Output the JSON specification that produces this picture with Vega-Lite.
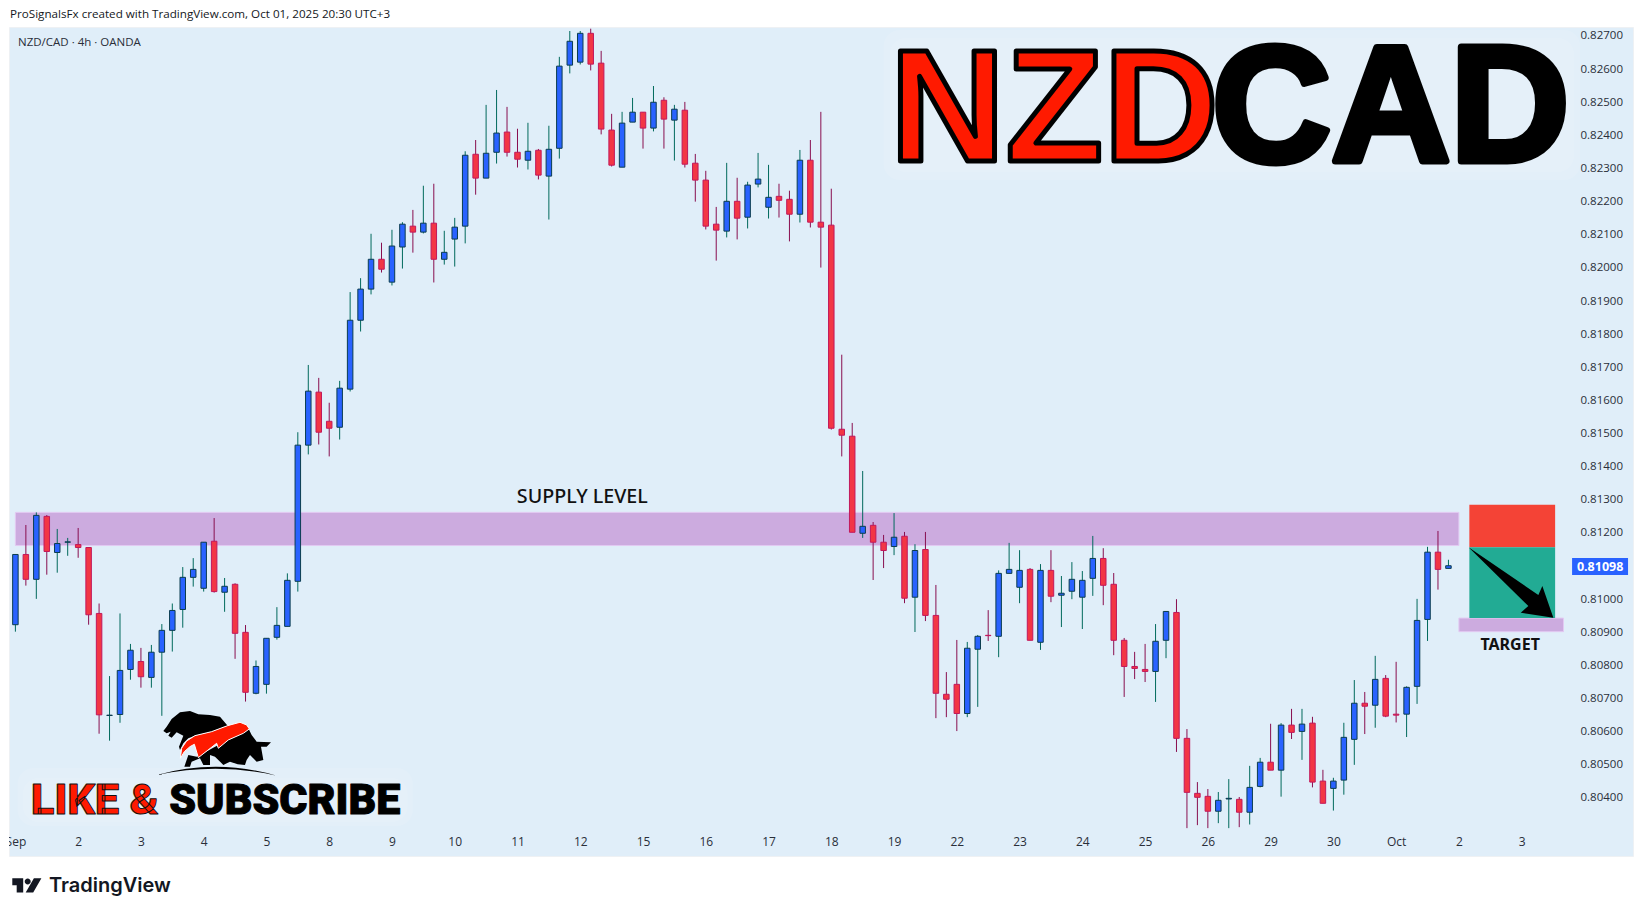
{"$schema":"https://vega.github.io/schema/vega-lite/v6.json","width":1624,"height":829,"autosize":"none","padding":{"left":9,"top":27,"right":10,"bottom":60},"background":"#ffffff","view":{"fill":"#e0eef9","stroke":"#eef1f4"},
"config":{"font":"Open Sans"},
"resolve":{"axis":{"x":"independent","y":"independent"}},
"datasets":{"candles":[
{"i":0,"d":"up","o":0.8092,"h":0.81132,"l":0.80899,"c":0.81132},{"i":1,"d":"down","o":0.81132,"h":0.81221,"l":0.81038,"c":0.81057},{"i":2,"d":"up","o":0.81057,"h":0.81259,"l":0.80998,"c":0.8125},{"i":3,"d":"down","o":0.81247,"h":0.81251,"l":0.81071,"c":0.81141},{"i":4,"d":"up","o":0.81138,"h":0.81209,"l":0.81077,"c":0.81165},{"i":5,"d":"up","o":0.81169,"h":0.81182,"l":0.81128,"c":0.8117},{"i":6,"d":"down","o":0.81162,"h":0.81212,"l":0.81122,"c":0.81153},{"i":7,"d":"down","o":0.81153,"h":0.81153,"l":0.8092,"c":0.8095},{"i":8,"d":"down","o":0.80954,"h":0.80984,"l":0.80591,"c":0.80648},{"i":9,"d":"up","o":0.80646,"h":0.80765,"l":0.8057,"c":0.80647},
{"i":10,"d":"up","o":0.80649,"h":0.80954,"l":0.80624,"c":0.80782},{"i":11,"d":"up","o":0.80785,"h":0.80862,"l":0.80754,"c":0.80843},{"i":12,"d":"down","o":0.80809,"h":0.8085,"l":0.8073,"c":0.80763},{"i":13,"d":"up","o":0.80761,"h":0.80859,"l":0.8073,"c":0.80837},{"i":14,"d":"up","o":0.80837,"h":0.80922,"l":0.80645,"c":0.80903},{"i":15,"d":"up","o":0.80903,"h":0.80984,"l":0.80839,"c":0.80963},{"i":16,"d":"up","o":0.80966,"h":0.81094,"l":0.80911,"c":0.81063},{"i":17,"d":"up","o":0.81063,"h":0.81121,"l":0.81035,"c":0.81087},{"i":18,"d":"up","o":0.8103,"h":0.81169,"l":0.8102,"c":0.81169},{"i":19,"d":"down","o":0.81172,"h":0.81242,"l":0.81017,"c":0.8102},
{"i":20,"d":"up","o":0.81018,"h":0.81061,"l":0.80959,"c":0.81036},{"i":21,"d":"down","o":0.81042,"h":0.81045,"l":0.80817,"c":0.80894},{"i":22,"d":"down","o":0.80897,"h":0.80919,"l":0.80688,"c":0.80716},{"i":23,"d":"up","o":0.80713,"h":0.80812,"l":0.8071,"c":0.80794},{"i":24,"d":"up","o":0.8074,"h":0.80879,"l":0.80712,"c":0.80879},{"i":25,"d":"up","o":0.80882,"h":0.80973,"l":0.80875,"c":0.80918},{"i":26,"d":"up","o":0.80915,"h":0.81075,"l":0.80915,"c":0.81054},{"i":27,"d":"up","o":0.81051,"h":0.81501,"l":0.8102,"c":0.81462},{"i":28,"d":"up","o":0.81462,"h":0.81704,"l":0.81434,"c":0.81625},{"i":29,"d":"down","o":0.81622,"h":0.81665,"l":0.81464,"c":0.81501},
{"i":30,"d":"down","o":0.81534,"h":0.8159,"l":0.81428,"c":0.81513},{"i":31,"d":"up","o":0.81516,"h":0.81656,"l":0.81479,"c":0.81634},{"i":32,"d":"up","o":0.81631,"h":0.81924,"l":0.81624,"c":0.81839},{"i":33,"d":"up","o":0.81839,"h":0.81966,"l":0.81805,"c":0.81933},{"i":34,"d":"up","o":0.81933,"h":0.821,"l":0.81917,"c":0.82023},{"i":35,"d":"down","o":0.82023,"h":0.82073,"l":0.81983,"c":0.81993},{"i":36,"d":"up","o":0.81954,"h":0.82112,"l":0.81944,"c":0.82063},{"i":37,"d":"up","o":0.8206,"h":0.82135,"l":0.81995,"c":0.82129},{"i":38,"d":"down","o":0.82123,"h":0.82172,"l":0.82043,"c":0.82105},{"i":39,"d":"up","o":0.82105,"h":0.82245,"l":0.82101,"c":0.82132},
{"i":40,"d":"down","o":0.82132,"h":0.82251,"l":0.81953,"c":0.82023},{"i":41,"d":"up","o":0.82023,"h":0.82109,"l":0.82007,"c":0.82044},{"i":42,"d":"up","o":0.82084,"h":0.82148,"l":0.82001,"c":0.8212},{"i":43,"d":"up","o":0.82123,"h":0.82349,"l":0.82071,"c":0.82337},{"i":44,"d":"down","o":0.8234,"h":0.82383,"l":0.82218,"c":0.82268},{"i":45,"d":"up","o":0.82268,"h":0.82489,"l":0.82268,"c":0.82343},{"i":46,"d":"up","o":0.82346,"h":0.82534,"l":0.82312,"c":0.82404},{"i":47,"d":"down","o":0.82407,"h":0.82483,"l":0.82333,"c":0.82346},{"i":48,"d":"down","o":0.82346,"h":0.82417,"l":0.823,"c":0.82325},{"i":49,"d":"up","o":0.82322,"h":0.82435,"l":0.82294,"c":0.82349},
{"i":50,"d":"down","o":0.82352,"h":0.82356,"l":0.82264,"c":0.82277},{"i":51,"d":"up","o":0.82274,"h":0.82426,"l":0.82143,"c":0.82355},{"i":52,"d":"up","o":0.82358,"h":0.82634,"l":0.82327,"c":0.82606},{"i":53,"d":"up","o":0.82609,"h":0.82712,"l":0.82584,"c":0.82681},{"i":54,"d":"up","o":0.82618,"h":0.82712,"l":0.82611,"c":0.82705},{"i":55,"d":"down","o":0.82705,"h":0.82719,"l":0.82593,"c":0.82612},{"i":56,"d":"down","o":0.82615,"h":0.82652,"l":0.824,"c":0.82416},{"i":57,"d":"down","o":0.82413,"h":0.82462,"l":0.82303,"c":0.82307},{"i":58,"d":"up","o":0.82301,"h":0.82468,"l":0.82301,"c":0.82434},{"i":59,"d":"up","o":0.82437,"h":0.8251,"l":0.82437,"c":0.82467},
{"i":60,"d":"down","o":0.82467,"h":0.82467,"l":0.82357,"c":0.82419},{"i":61,"d":"up","o":0.82419,"h":0.82546,"l":0.82409,"c":0.82497},{"i":62,"d":"down","o":0.82503,"h":0.82512,"l":0.82357,"c":0.82446},{"i":63,"d":"up","o":0.82443,"h":0.82489,"l":0.82321,"c":0.82476},{"i":64,"d":"down","o":0.82473,"h":0.82498,"l":0.823,"c":0.8231},{"i":65,"d":"down","o":0.82313,"h":0.82341,"l":0.82197,"c":0.82262},{"i":66,"d":"down","o":0.82262,"h":0.8229,"l":0.82113,"c":0.82123},{"i":67,"d":"down","o":0.82129,"h":0.82181,"l":0.82019,"c":0.82111},{"i":68,"d":"up","o":0.82108,"h":0.82314,"l":0.82089,"c":0.82198},{"i":69,"d":"down","o":0.82198,"h":0.82269,"l":0.82083,"c":0.82147},
{"i":70,"d":"up","o":0.8215,"h":0.82257,"l":0.82116,"c":0.82247},{"i":71,"d":"up","o":0.8225,"h":0.82344,"l":0.8224,"c":0.82265},{"i":72,"d":"up","o":0.8218,"h":0.82308,"l":0.82146,"c":0.8221},{"i":73,"d":"down","o":0.82213,"h":0.82251,"l":0.82149,"c":0.82201},{"i":74,"d":"down","o":0.82204,"h":0.8223,"l":0.82077,"c":0.82159},{"i":75,"d":"up","o":0.82159,"h":0.82353,"l":0.82134,"c":0.82322},{"i":76,"d":"down","o":0.82322,"h":0.82383,"l":0.82119,"c":0.82135},{"i":77,"d":"down","o":0.82135,"h":0.82468,"l":0.81998,"c":0.8212},{"i":78,"d":"down","o":0.82126,"h":0.82236,"l":0.81509,"c":0.81513},{"i":79,"d":"down","o":0.8151,"h":0.81735,"l":0.81428,"c":0.81492},
{"i":80,"d":"down","o":0.81489,"h":0.81529,"l":0.81199,"c":0.81199},{"i":81,"d":"up","o":0.81196,"h":0.81384,"l":0.81182,"c":0.81217},{"i":82,"d":"down","o":0.8122,"h":0.8123,"l":0.81055,"c":0.81169},{"i":83,"d":"down","o":0.81169,"h":0.81191,"l":0.81091,"c":0.81144},{"i":84,"d":"up","o":0.81156,"h":0.81257,"l":0.8113,"c":0.81184},{"i":85,"d":"down","o":0.81187,"h":0.812,"l":0.80985,"c":0.81},{"i":86,"d":"up","o":0.81003,"h":0.81163,"l":0.80898,"c":0.81144},{"i":87,"d":"down","o":0.81147,"h":0.812,"l":0.80931,"c":0.80948},{"i":88,"d":"down","o":0.80948,"h":0.8104,"l":0.80638,"c":0.80713},{"i":89,"d":"down","o":0.8071,"h":0.80777,"l":0.80641,"c":0.80695},
{"i":90,"d":"down","o":0.8074,"h":0.80874,"l":0.80599,"c":0.80652},{"i":91,"d":"up","o":0.80652,"h":0.80868,"l":0.80641,"c":0.80849},{"i":92,"d":"up","o":0.80846,"h":0.80889,"l":0.80672,"c":0.80885},{"i":93,"d":"down","o":0.80888,"h":0.80964,"l":0.80871,"c":0.80887},{"i":94,"d":"up","o":0.80885,"h":0.81084,"l":0.80822,"c":0.81075},{"i":95,"d":"up","o":0.81075,"h":0.81167,"l":0.81075,"c":0.81087},{"i":96,"d":"up","o":0.81033,"h":0.81145,"l":0.80985,"c":0.81084},{"i":97,"d":"down","o":0.81087,"h":0.81091,"l":0.80873,"c":0.80873},{"i":98,"d":"up","o":0.80867,"h":0.81103,"l":0.80844,"c":0.81084},{"i":99,"d":"down","o":0.81084,"h":0.81145,"l":0.80988,"c":0.81006},
{"i":100,"d":"up","o":0.81009,"h":0.81067,"l":0.80913,"c":0.81015},{"i":101,"d":"up","o":0.81021,"h":0.81109,"l":0.80997,"c":0.81057},{"i":102,"d":"up","o":0.81003,"h":0.81082,"l":0.80907,"c":0.81054},{"i":103,"d":"up","o":0.8106,"h":0.81188,"l":0.81007,"c":0.8112},{"i":104,"d":"down","o":0.8112,"h":0.81151,"l":0.80979,"c":0.81039},{"i":105,"d":"down","o":0.81042,"h":0.81076,"l":0.80828,"c":0.80873},{"i":106,"d":"down","o":0.80873,"h":0.8088,"l":0.80702,"c":0.80794},{"i":107,"d":"down","o":0.80794,"h":0.80838,"l":0.80756,"c":0.80788},{"i":108,"d":"down","o":0.80785,"h":0.80862,"l":0.80747,"c":0.80779},{"i":109,"d":"up","o":0.80779,"h":0.80922,"l":0.80687,"c":0.8087},
{"i":110,"d":"up","o":0.80873,"h":0.8096,"l":0.80819,"c":0.8096},{"i":111,"d":"down","o":0.80957,"h":0.80997,"l":0.80536,"c":0.80577},{"i":112,"d":"down","o":0.80577,"h":0.80605,"l":0.80306,"c":0.80414},{"i":113,"d":"down","o":0.80411,"h":0.80445,"l":0.80315,"c":0.80399},{"i":114,"d":"down","o":0.80402,"h":0.80424,"l":0.80306,"c":0.80357},{"i":115,"d":"up","o":0.80357,"h":0.80415,"l":0.80321,"c":0.8039},{"i":116,"d":"up","o":0.80394,"h":0.80454,"l":0.80306,"c":0.80396},{"i":117,"d":"down","o":0.80393,"h":0.804,"l":0.80309,"c":0.80354},{"i":118,"d":"up","o":0.80354,"h":0.80494,"l":0.80317,"c":0.80429},{"i":119,"d":"up","o":0.80432,"h":0.80518,"l":0.80429,"c":0.80505},
{"i":120,"d":"down","o":0.80505,"h":0.80621,"l":0.80481,"c":0.80481},{"i":121,"d":"up","o":0.80481,"h":0.80623,"l":0.80401,"c":0.80617},{"i":122,"d":"down","o":0.80617,"h":0.80666,"l":0.80575,"c":0.80595},{"i":123,"d":"up","o":0.80598,"h":0.80666,"l":0.80512,"c":0.8062},{"i":124,"d":"down","o":0.80623,"h":0.80642,"l":0.80429,"c":0.80445},{"i":125,"d":"down","o":0.80448,"h":0.80482,"l":0.80381,"c":0.80381},{"i":126,"d":"up","o":0.80426,"h":0.80458,"l":0.80359,"c":0.80448},{"i":127,"d":"up","o":0.80451,"h":0.80624,"l":0.80407,"c":0.8058},{"i":128,"d":"up","o":0.80574,"h":0.80753,"l":0.80497,"c":0.80683},{"i":129,"d":"down","o":0.80683,"h":0.80717,"l":0.8059,"c":0.80674},
{"i":130,"d":"up","o":0.80677,"h":0.80826,"l":0.80609,"c":0.80755},{"i":131,"d":"down","o":0.80758,"h":0.80768,"l":0.80641,"c":0.80644},{"i":132,"d":"down","o":0.8065,"h":0.80808,"l":0.80625,"c":0.80647},{"i":133,"d":"up","o":0.8065,"h":0.80734,"l":0.80581,"c":0.80731},{"i":134,"d":"up","o":0.80734,"h":0.80998,"l":0.80681,"c":0.80933},{"i":135,"d":"up","o":0.80936,"h":0.81155,"l":0.80871,"c":0.81139},{"i":136,"d":"down","o":0.81139,"h":0.81203,"l":0.81026,"c":0.81087},{"i":137,"d":"up","o":0.8109,"h":0.81116,"l":0.8109,"c":0.81098}
]},
"encoding":{
"x":{"field":"i","type":"quantitative","title":null,"scale":{"domain":[-0.612,154.644],"nice":false,"zero":false,"padding":0},"axis":null},
"y":{"field":"p","type":"quantitative","title":null,"scale":{"domain":[0.802219,0.827241],"nice":false,"zero":false,"padding":0},"axis":null}
},
"layer":[
{"data":{"values":[{"i":0,"p":0.81}]},"mark":{"type":"point","opacity":0,"size":1},
"encoding":{
"x":{"field":"i","type":"quantitative","title":null,"scale":{"domain":[-0.612,154.644],"nice":false,"zero":false,"padding":0},"axis":{"orient":"bottom","offset":-20,"values":[0,6,12,18,24,30,36,42,48,54,60,66,72,78,84,90,96,102,108,114,120,126,132,138,144],"labelExpr":"{'0':'Sep','6':'2','12':'3','18':'4','24':'5','30':'8','36':'9','42':'10','48':'11','54':'12','60':'15','66':'16','72':'17','78':'18','84':'19','90':'22','96':'23','102':'24','108':'25','114':'26','120':'29','126':'30','132':'Oct','138':'2','144':'3'}[datum.value+'']","domain":false,"ticks":false,"grid":false,"labelPadding":0,"labelFontSize":12,"labelColor":"#2a2e39","labelFont":"Open Sans","labelOverlap":false,"labelBound":false,"labelFlush":false,"title":null}},
"y":{"field":"p","type":"quantitative","title":null,"scale":{"domain":[0.802219,0.827241],"nice":false,"zero":false,"padding":0},"axis":{"orient":"right","offset":-53,"values":[0.804,0.805,0.806,0.807,0.808,0.809,0.81,0.812,0.813,0.814,0.815,0.816,0.817,0.818,0.819,0.82,0.821,0.822,0.823,0.824,0.825,0.826,0.827],"format":".5f","domain":false,"ticks":false,"grid":false,"labelPadding":0,"labelOffset":1,"labelFontSize":11.5,"labelColor":"#2a2e39","labelFont":"Open Sans","labelOverlap":false,"labelBound":false,"labelFlush":false,"title":null}}
}},
{"data":{"values":[{"i":-1.472,"i2":-0.612,"p":0.8025,"p2":0.8272}]},"mark":{"type":"rect","fill":"#ffffff"},"encoding":{"x2":{"field":"i2"},"y2":{"field":"p2"}}},
{"data":{"values":[{"name":"title glow","i":83.0,"i2":149.6,"p":0.822623,"p2":0.827151},{"name":"title glow","i":83.6,"i2":149.0,"p":0.822865,"p2":0.826909},{"name":"banner glow","i":0.2,"i2":38.0,"p":0.803125,"p2":0.804875},{"name":"banner glow","i":0.7,"i2":37.5,"p":0.803245,"p2":0.804573}]},"mark":{"type":"rect","fill":"#ffffff","fillOpacity":0.1,"cornerRadius":16},"encoding":{"x2":{"field":"i2"},"y2":{"field":"p2"}}},
{"data":{"values":[{"name":"SUPPLY LEVEL zone","i":0,"i2":138,"p":0.81159,"p2":0.81259},{"name":"TARGET zone","i":138,"i2":148,"p":0.80899,"p2":0.8094}]},"mark":{"type":"rect","fill":"#ccabdf","stroke":"#e2c9f2","strokeWidth":1},"encoding":{"x2":{"field":"i2"},"y2":{"field":"p2"}}},
{"data":{"values":[{"name":"stop","i":139,"i2":147.2,"p":0.81154,"p2":0.81282}]},"mark":{"type":"rect","fill":"#f44336"},"encoding":{"x2":{"field":"i2"},"y2":{"field":"p2"}}},
{"data":{"values":[{"name":"profit","i":139,"i2":147.2,"p":0.8094,"p2":0.81154}]},"mark":{"type":"rect","fill":"#22ab94"},"encoding":{"x2":{"field":"i2"},"y2":{"field":"p2"}}},
{"data":{"name":"candles"},"mark":{"type":"rule","strokeWidth":1},"encoding":{"y":{"field":"l","type":"quantitative","title":null,"scale":{"domain":[0.802219,0.827241],"nice":false,"zero":false,"padding":0},"axis":null},"y2":{"field":"h"},"color":{"field":"d","type":"nominal","legend":null,"scale":{"domain":["up","down"],"range":["#00695c","#880e4f"]}}}},
{"data":{"name":"candles"},"mark":{"type":"bar","size":5.5,"strokeWidth":1,"orient":"vertical"},"encoding":{"y":{"field":"o","type":"quantitative","title":null,"scale":{"domain":[0.802219,0.827241],"nice":false,"zero":false,"padding":0},"axis":null},"y2":{"field":"c"},"fill":{"field":"d","type":"nominal","legend":null,"scale":{"domain":["up","down"],"range":["#2962ff","#f23645"]}},"stroke":{"field":"d","type":"nominal","legend":null,"scale":{"domain":["up","down"],"range":["#0b3d4f","#c2185b"]}}}},
{"data":{"values":[{"i":142.89,"p":0.810489,"name":"arrow"}]},"mark":{"type":"point","filled":true,"size":10000,"fill":"#000000","opacity":1,"strokeWidth":0,"shape":"M-.83 -.694 L.566 .26 L.646 .08 L.866 .714 L.214 .614 L.366 .48 Z"}},
{"data":{"values":[{"i":19.32,"p":0.805621,"name":"bear and bull"}]},"mark":{"type":"point","filled":true,"size":10000,"fill":"#000000","opacity":1,"strokeWidth":0,"shape":"M-1.083 -.247 L-1.017 -.333 L-.917 -.487 L-.75 -.62 L-.55 -.647 L-.383 -.58 L-.15 -.567 L.05 -.533 L.203 -.353 L-.117 -.233 L-.45 -.153 L-.583 -.1 L-.683 0 L-.75 .133 L-.77 .067 L-.717 -.067 L-.683 -.153 L-.817 -.22 L-.917 -.113 L-.983 -.153 L-.937 -.233 L-1.017 -.2 Z M.617 -.3 L.683 -.167 L.783 -.033 L1.07 -.02 L.983 .067 L.87 .067 L.917 .333 L.783 .367 L.65 .233 L.583 .333 L.55 .433 L.403 .42 L.25 .367 L.117 .433 L-.05 .267 L-.15 .233 L-.15 .433 L-.283 .433 L-.35 .3 L-.517 .367 L-.55 .467 L-.663 .467 L-.583 .233 L-.417 .267 L.017 .033 L.55 -.233 Z M-1.217 .633 Q0 .3 1.183 .647 Q0 .38 -1.217 .633 Z"}},
{"data":{"values":[{"i":19.32,"p":0.805621,"name":"flash"}]},"mark":{"type":"point","filled":true,"size":10000,"fill":"#ff1a00","stroke":"#ffffff","strokeWidth":1,"opacity":1,"shape":"M-.743 .3 L-.717 .1 L-.617 -.047 L-.45 -.153 L-.117 -.233 L.203 -.353 L.45 -.42 L.583 -.367 L.637 -.287 L.517 -.2 L.217 -.067 L.017 .1 L-.017 0 L-.383 .287 L-.463 .02 L-.55 .067 L-.663 .167 Z"}},
{"data":{"values":[{"i":1.08,"p":0.801334,"name":"tv logo"}]},"mark":{"type":"point","filled":true,"size":400,"fill":"#131722","opacity":1,"strokeWidth":0,"shape":"M-1.44 -.7 H-.35 V.73 H-1 V0 H-1.44 Z M.4 -.37 A.3 .3 0 1 1 -.2 -.37 A.3 .3 0 1 1 .4 -.37 Z M1.47 -.7 L.65 .73 H-.1 L.72 -.7 Z"}},
{"data":{"values":[{"i":83.6,"p":0.823197,"t":"NZD"}]},"mark":{"type":"text","align":"left","baseline":"alphabetic","font":"Liberation Sans","fontWeight":"bold","fontSize":160,"fill":"#ff1a00","stroke":"#000000","strokeWidth":5,"strokeJoin":"round"},"encoding":{"text":{"field":"t"}}},
{"data":{"values":[{"i":114.4,"p":0.823197,"t":"CAD"}]},"mark":{"type":"text","align":"left","baseline":"alphabetic","font":"Liberation Sans","fontWeight":"bold","fontSize":165,"fill":"#000000","stroke":"#000000","strokeWidth":7,"strokeJoin":"round"},"encoding":{"text":{"field":"t"}}},
{"data":{"values":[{"i":1.5,"p":0.803486,"t":"LIKE &"}]},"mark":{"type":"text","align":"left","baseline":"alphabetic","font":"Roboto","fontWeight":900,"fontSize":43,"fill":"#ff1a00","stroke":"#111111","strokeWidth":1,"strokeJoin":"round"},"encoding":{"text":{"field":"t"}}},
{"data":{"values":[{"i":14.7,"p":0.803486,"t":"SUBSCRIBE"}]},"mark":{"type":"text","align":"left","baseline":"alphabetic","font":"Roboto","fontWeight":900,"fontSize":43,"fill":"#000000","stroke":"#000000","strokeWidth":1,"strokeJoin":"round"},"encoding":{"text":{"field":"t"}}},
{"data":{"values":[{"i":-0.516,"p":0.827604,"t":"ProSignalsFx created with TradingView.com, Oct 01, 2025 20:30 UTC+3"}]},"mark":{"type":"text","align":"left","baseline":"middle","font":"Open Sans","fontSize":11.65,"fill":"#131722"},"encoding":{"text":{"field":"t"}}},
{"data":{"values":[{"i":0.249,"p":0.82676,"t":"NZD/CAD · 4h · OANDA"}]},"mark":{"type":"text","align":"left","baseline":"middle","font":"Open Sans","fontSize":11.5,"fill":"#2a2e39"},"encoding":{"text":{"field":"t"}}},
{"data":{"values":[{"i":54.2,"p":0.813055,"t":"SUPPLY LEVEL"}]},"mark":{"type":"text","align":"center","baseline":"middle","font":"Noto Sans","fontSize":19.7,"fontWeight":500,"fill":"#111111"},"encoding":{"text":{"field":"t"}}},
{"data":{"values":[{"i":142.9,"p":0.808588,"t":"TARGET"}]},"mark":{"type":"text","align":"center","baseline":"middle","font":"Noto Sans","fontSize":16,"fontWeight":"bold","fill":"#111111"},"encoding":{"text":{"field":"t"}}},
{"data":{"values":[{"i":3.21,"p":0.801313,"t":"TradingView"}]},"mark":{"type":"text","align":"left","baseline":"middle","font":"Inter","fontSize":20,"fontWeight":600,"fill":"#131722"},"encoding":{"text":{"field":"t"}}},
{"data":{"values":[{"name":"last price tag","i":148.82,"i2":154.17,"p":0.8107,"p2":0.811214}]},"mark":{"type":"rect","fill":"#2962ff"},"encoding":{"x2":{"field":"i2"},"y2":{"field":"p2"}}},
{"data":{"values":[{"i":151.5,"p":0.810957,"t":"0.81098"}]},"mark":{"type":"text","align":"center","baseline":"middle","font":"Open Sans","fontSize":12.5,"fontWeight":"bold","fill":"#ffffff"},"encoding":{"text":{"field":"t"}}}
]}
